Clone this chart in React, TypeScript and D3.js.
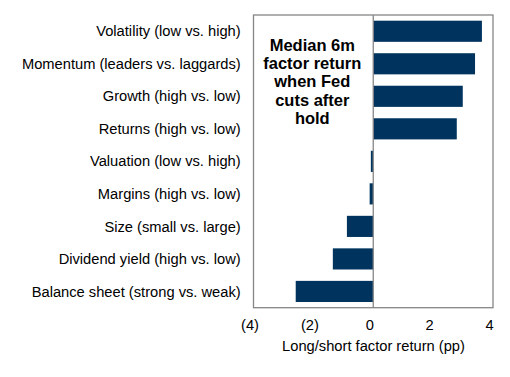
import React from "react";
import * as d3 from "d3";

const categories = [
  "Volatility (low vs. high)",
  "Momentum (leaders vs. laggards)",
  "Growth (high vs. low)",
  "Returns (high vs. low)",
  "Valuation (low vs. high)",
  "Margins (high vs. low)",
  "Size (small vs. large)",
  "Dividend yield (high vs. low)",
  "Balance sheet (strong vs. weak)",
];
const values = [3.63, 3.4, 2.99, 2.79, -0.08, -0.12, -0.88, -1.35, -2.59];
const ticks = [-4, -2, 0, 2, 4];
const annotation = ["Median 6m", "factor return", "when Fed", "cuts after", "hold"];
const xTitle = "Long/short factor return (pp)";

const W = 510, H = 377;
const left = 253.5, right = 493, top = 15, bottom = 307.7;

export default function App() {
  const x = d3.scaleLinear().domain([-4, 4]).range([left, right]);
  const y = d3.scaleBand<string>().domain(categories).range([top, bottom]).paddingInner(0.35).paddingOuter(0.175);
  const fmt = (v: number) => (v < 0 ? `(${Math.abs(v)})` : `${v}`);
  const font = "Arial, 'Liberation Sans', sans-serif";
  const fs = 14.7;
  return (
    <svg width={W} height={H} style={{ position: "absolute", left: 0, top: 0, background: "#fff" }} fontFamily={font}>
      <rect x={left} y={top} width={right - left} height={bottom - top} fill="none" stroke="#868686" strokeWidth={1.3} />
      {categories.map((c, i) => {
        const v = values[i];
        const x0 = x(Math.min(0, v));
        const x1 = x(Math.max(0, v));
        return <rect key={c} x={x0} y={y(c)!} width={x1 - x0} height={y.bandwidth()} fill="#00345e" />;
      })}
      <line x1={x(0)} x2={x(0)} y1={top} y2={bottom} stroke="#868686" strokeWidth={1.3} />
      {categories.map((c) => (
        <text key={c} x={240.7} y={y(c)! + y.bandwidth() / 2} dy="0.35em" textAnchor="end" fontSize={fs} fill="#000">{c}</text>
      ))}
      {ticks.map((t) => (
        <text key={t} x={x(t) - 3.5} y={325} dy="0.35em" textAnchor="middle" fontSize={fs} fill="#000">{fmt(t)}</text>
      ))}
      <text x={373.5} y={346} dy="0.35em" textAnchor="middle" fontSize={fs} fill="#000">{xTitle}</text>
      {annotation.map((l, i) => (
        <text key={l} x={312.3} y={45 + i * 18.3} dy="0.35em" textAnchor="middle" fontSize={16.5} fontWeight="bold" fill="#000">{l}</text>
      ))}
    </svg>
  );
}
